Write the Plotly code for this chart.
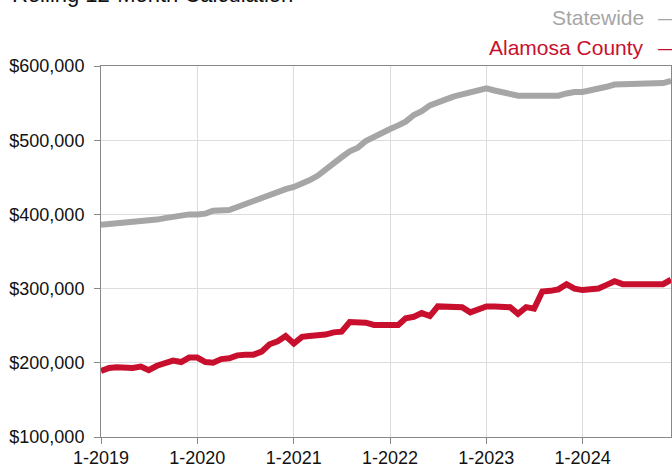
import pandas as pd
import plotly.graph_objects as go

months = pd.date_range("2019-01-01", "2024-12-01", freq="MS")

statewide = [386, 387, 388, 389, 390, 390, 391, 393, 395, 397, 399, 400,
             400, 401, 405, 405, 406, 410, 414, 419, 424, 428, 431, 434,
             437, 441, 446, 452, 461, 470, 477, 485, 490, 499, 505, 510,
             515, 520, 525, 534, 539, 547, 550, 555, 559, 562, 565, 567,
             570, 567, 565, 562, 560, 560, 559, 560, 560, 560, 563, 565,
             565, 567, 570, 572, 575, 575, 575, 575, 575, 575, 577, 580]
statewide = [v * 1000 for v in statewide]

alamosa = [189, 193, 194, 193, 193, 195, 190, 196, 200, 203, 201, 207,
           207, 201, 200, 205, 206, 210, 211, 211, 215, 225, 229, 236,
           226, 235, 236, 236, 238, 241, 242, 255, 255, 254, 251, 251,
           251, 251, 260, 262, 267, 263, 276, 276, 276, 275, 268, 272,
           276, 276, 276, 275, 266, 275, 273, 296, 297, 299, 306, 300,
           298, 299, 300, 305, 310, 306, 306, 306, 306, 306, 306, 312]
alamosa = [v * 1000 for v in alamosa]

x_tickvals = ["2019-01-01", "2020-01-01", "2021-01-01", "2022-01-01", "2023-01-01", "2024-01-01"]
x_ticktext = ["1-2019", "1-2020", "1-2021", "1-2022", "1-2023", "1-2024"]
y_tickvals = [100000, 200000, 300000, 400000, 500000, 600000]
y_ticktext = ["$100,000", "$200,000", "$300,000", "$400,000", "$500,000", "$600,000"]

GRAY = "#a6a6a6"
RED = "#c8102e"
FONT = "Liberation Sans, Arial, Helvetica, sans-serif"

fig = go.Figure()
fig.add_trace(go.Scatter(x=months, y=statewide, mode="lines", name="Statewide",
                         line=dict(color=GRAY, width=6), hoverinfo="skip", cliponaxis=False))
fig.add_trace(go.Scatter(x=months, y=alamosa, mode="lines", name="Alamosa County",
                         line=dict(color=RED, width=6), hoverinfo="skip", cliponaxis=False))

fig.update_layout(
    width=672, height=468,
    margin=dict(l=101, r=1, t=66, b=31, autoexpand=False),
    paper_bgcolor="white", plot_bgcolor="white",
    showlegend=False,
    font=dict(family=FONT, size=18, color="#111"),
)
fig.update_xaxes(
    type="date", range=["2019-01-01", "2024-12-01"], automargin=False,
    tickvals=x_tickvals, ticktext=x_ticktext,
    showgrid=True, gridcolor="#dddddd", gridwidth=1,
    showline=True, linecolor="#888888", linewidth=1, mirror=True,
    ticks="outside", ticklen=6, tickcolor="#888888", ticklabelstandoff=-2,
    tickfont=dict(size=18, color="#111"), zeroline=False,
)
fig.update_yaxes(
    range=[100000, 600000], automargin=False,
    tickvals=y_tickvals, ticktext=y_ticktext,
    showgrid=True, gridcolor="#dddddd", gridwidth=1,
    showline=True, linecolor="#888888", linewidth=1, mirror=True,
    ticks="outside", ticklen=6, tickcolor="#888888", ticklabelstandoff=6,
    tickfont=dict(size=18, color="#111"), zeroline=False,
)

annos = [
    dict(text="Rolling 12-Month Calculation", x=-0.158, y=1.193, xanchor="left", yanchor="middle",
         font=dict(size=22, color="#111", family=FONT)),
    dict(text="Statewide", x=0.9544, y=1.1298, xanchor="right", yanchor="middle",
         font=dict(size=21, color=GRAY, family=FONT)),
    dict(text="—", x=0.9755, y=1.1298, xanchor="left", yanchor="middle",
         font=dict(size=21, color=GRAY, family=FONT)),
    dict(text="Alamosa County", x=0.9544, y=1.049, xanchor="right", yanchor="middle",
         font=dict(size=21, color=RED, family=FONT)),
    dict(text="—", x=0.9755, y=1.049, xanchor="left", yanchor="middle",
         font=dict(size=21, color=RED, family=FONT)),
]
for a in annos:
    fig.add_annotation(xref="paper", yref="paper", showarrow=False, borderpad=0, **a)

fig.write_html("out.html", config={"displayModeBar": False},
               post_script="document.body.style.margin='0';document.body.style.overflow='hidden';")
